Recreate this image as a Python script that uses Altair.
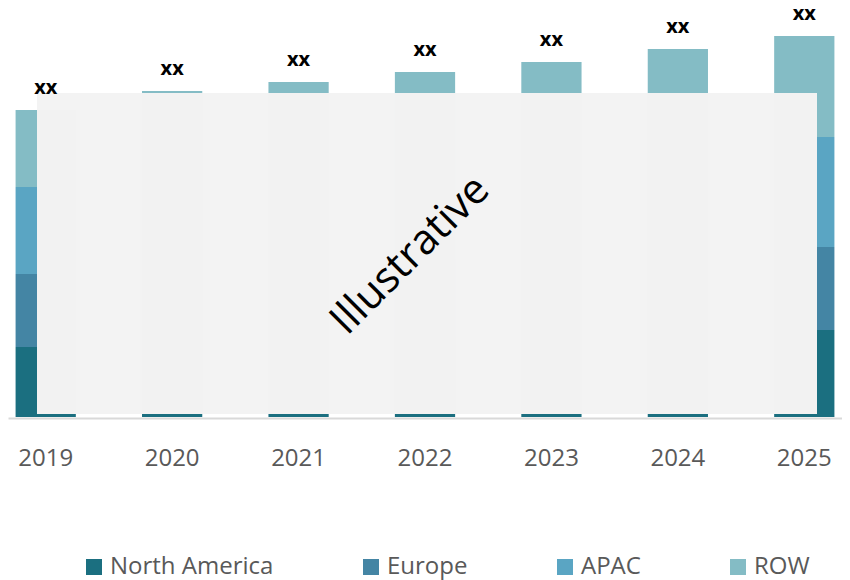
import altair as alt
import pandas as pd

years = ["2019", "2020", "2021", "2022", "2023", "2024", "2025"]
regions = ["North America", "Europe", "APAC", "ROW"]
north_america = [70, 79, 78, 80, 82, 84, 87]
europe = [73, 73, 76, 78, 80, 82, 83]
apac = [87, 90, 95, 99, 100, 105, 110]
row_vals = [77, 84, 86, 88, 93, 97, 101]
colors = ["#1b6f80", "#4485a4", "#5aa5c3", "#84bcc5"]
bar_label = "xx"
watermark = "Illustrative"

series = [north_america, europe, apac, row_vals]
records = []
for i, name in enumerate(regions):
    for y, v in zip(years, series[i]):
        records.append({"year": y, "region": name, "value": v, "idx": i})
df = pd.DataFrame(records)

totals = pd.DataFrame({
    "year": years,
    "total": [sum(s[k] for s in series) for k in range(len(years))],
    "label": [bar_label] * len(years),
})

FONT = "Open Sans"

x_enc = alt.X(
    "year:N",
    sort=years,
    scale=alt.Scale(paddingInner=0.5235, paddingOuter=0.06),
    axis=alt.Axis(
        title=None, ticks=False, labelAngle=0, labelFontSize=24,
        labelColor="#595959", labelFont=FONT, labelPadding=28,
        domainColor="#d9d9d9", domainWidth=2, grid=False, offset=1,
    ),
)
y_scale = alt.Scale(domain=[0, 409], nice=False, zero=True)

bars = alt.Chart(df).mark_bar().encode(
    x=x_enc,
    y=alt.Y("sum(value):Q", scale=y_scale, axis=None, stack="zero"),
    color=alt.Color(
        "region:N",
        scale=alt.Scale(domain=regions, range=colors),
        legend=alt.Legend(
            title=None, orient="none", direction="horizontal",
            legendX=74, legendY=547, symbolType="square", symbolSize=256,
            symbolStrokeWidth=0, labelFontSize=24, labelColor="#595959",
            labelFont=FONT, labelOffset=4, columnPadding=85,
            labelLimit=400,
        ),
    ),
    order=alt.Order("idx:Q", sort="ascending"),
)

overlay = alt.Chart(totals).mark_rect(
    color="#f2f2f2", opacity=0.93
).encode(
    x=alt.value(29), x2=alt.value(809), y=alt.value(85), y2=alt.value(406)
)

wm = alt.Chart(totals.head(1)).mark_text(
    text=watermark, angle=315, fontSize=42, font=FONT, color="#000000",
    align="center", baseline="middle",
).encode(x=alt.value(402), y=alt.value(247))

labels = alt.Chart(totals).mark_text(
    fontSize=20, fontWeight="bold", font=FONT, color="#000000",
    baseline="middle", dy=-22,
).encode(
    x=alt.X("year:N", sort=years),
    y=alt.Y("total:Q", scale=y_scale),
    text="label:N",
)

chart = alt.layer(bars, overlay, wm, labels).properties(
    width=834, height=409,
    autosize=alt.AutoSizeParams(type="none"),
    padding={"left": 0, "top": 0, "right": 0, "bottom": 163},
    background="#ffffff",
).configure_view(stroke=None)

chart.save("out.html", embed_options={"renderer": "svg", "actions": False})
